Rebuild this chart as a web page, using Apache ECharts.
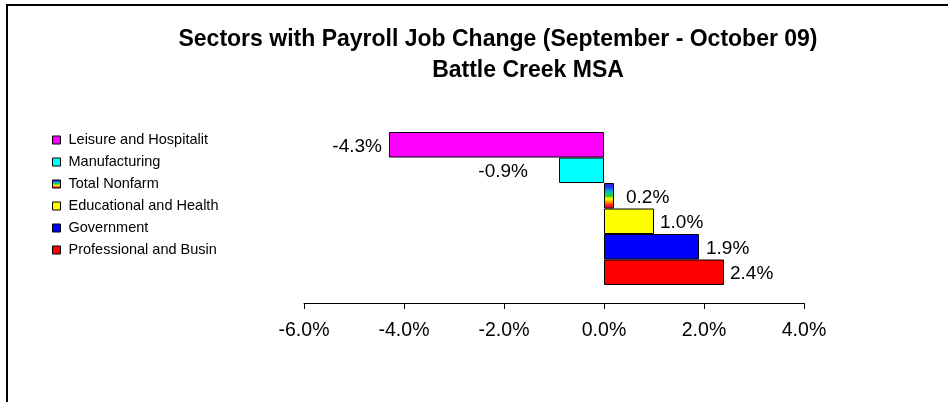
<!DOCTYPE html>
<html>
<head>
<meta charset="utf-8">
<script src="https://cdn.jsdelivr.net/npm/echarts@6/dist/echarts.min.js"></script>
<style>
html,body{margin:0;padding:0;background:#fff;}
#chart{width:948px;height:402px;}
</style>
</head>
<body>
<div id="chart"></div>
<script>
var categories = ['Leisure and Hospitalit', 'Manufacturing', 'Total Nonfarm', 'Educational and Health', 'Government', 'Professional and Busin'];
var values = [-4.3, -0.9, 0.2, 1.0, 1.9, 2.4];
var tickValues = [-6, -4, -2, 0, 2, 4];
var titleLine1 = 'Sectors with Payroll Job Change (September - October 09)';
var titleLine2 = 'Battle Creek MSA';

var rainbow = new echarts.graphic.LinearGradient(0, 0, 0, 1, [
  {offset: 0, color: '#3a1fa8'},
  {offset: 0.18, color: '#1f3fff'},
  {offset: 0.36, color: '#00c8c0'},
  {offset: 0.5, color: '#20d020'},
  {offset: 0.62, color: '#ffff00'},
  {offset: 0.76, color: '#ff9000'},
  {offset: 0.88, color: '#ff1010'},
  {offset: 1, color: '#e0308a'}
]);
var colors = ['#FF00FF', '#00FFFF', rainbow, '#FFFF00', '#0000FF', '#FF0000'];
var labelDist = [7, 31, 12, 6, 7, 6];
var font = 'Liberation Sans, Arial, sans-serif';

var series = categories.map(function (name, i) {
  var d = categories.map(function (c, j) { return j === i ? values[i] : null; });
  return {
    name: name,
    type: 'bar',
    stack: 'all',
    data: d,
    barWidth: '100%',
    itemStyle: {color: colors[i], borderColor: '#000', borderWidth: 1},
    label: {
      show: true,
      position: values[i] < 0 ? 'left' : 'right',
      distance: labelDist[i],
      offset: [0, 2],
      fontFamily: font,
      fontSize: 19,
      color: '#000',
      formatter: function (p) { return p.value == null ? '' : p.value.toFixed(1) + '%'; }
    },
    emphasis: {disabled: true},
    animation: false
  };
});

var chart = echarts.init(document.getElementById('chart'));
chart.setOption({
  backgroundColor: '#fff',
  animation: false,
  title: [
    {text: titleLine1, left: 493, textAlign: 'center', top: 23,
     textStyle: {fontFamily: font, fontSize: 23, fontWeight: 'bold', color: '#000'}},
    {text: titleLine2, left: 523, textAlign: 'center', top: 54,
     textStyle: {fontFamily: font, fontSize: 23, fontWeight: 'bold', color: '#000'}}
  ],
  legend: {
    orient: 'vertical',
    left: 47,
    top: 127,
    itemWidth: 8,
    itemHeight: 8,
    itemGap: 6,
    icon: 'rect',
    data: categories,
    selectedMode: false,
    itemStyle: {borderColor: '#000', borderWidth: 1},
    textStyle: {fontFamily: font, fontSize: 14.5, lineHeight: 16, color: '#000', padding: [0, 0, 0, 3]}
  },
  grid: {left: 304, right: 144, top: 132, bottom: 117, containLabel: false},
  xAxis: {
    type: 'value',
    min: tickValues[0],
    max: tickValues[tickValues.length - 1],
    interval: 2,
    offset: 18,
    position: 'bottom',
    axisLine: {show: true, lineStyle: {color: '#000', width: 1}},
    axisTick: {show: true, length: 6, lineStyle: {color: '#000'}},
    splitLine: {show: false},
    axisLabel: {
      fontFamily: font, fontSize: 19.5, color: '#000', margin: 18,
      formatter: function (v) { return v.toFixed(1) + '%'; }
    }
  },
  yAxis: {
    type: 'category',
    data: categories,
    inverse: true,
    show: false
  },
  graphic: [{
    type: 'polyline',
    shape: {points: [[7, 402], [7, 5], [948, 5]]},
    style: {stroke: '#000', lineWidth: 2, fill: null},
    silent: true
  }],
  series: series
});
</script>
</body>
</html>
